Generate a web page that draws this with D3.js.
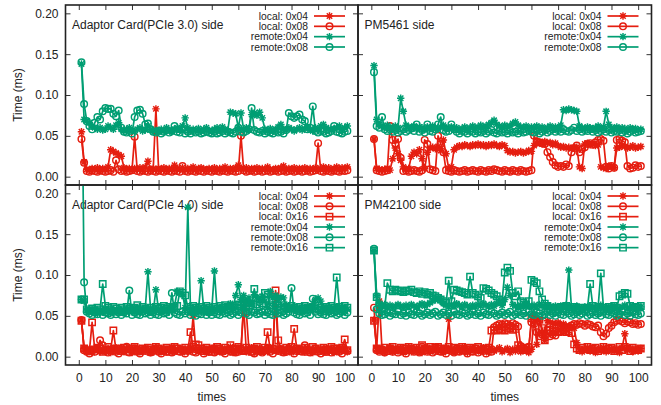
<!DOCTYPE html>
<html><head><meta charset="utf-8">
<script src="https://cdn.jsdelivr.net/npm/d3@7"></script>
<style>
body{margin:0;background:#fff}
svg{display:block}
text{font-family:"Liberation Sans",Arial,Helvetica,sans-serif;fill:#222}
</style>
</head><body>
<svg id="c" width="661" height="405"></svg>
<script>
// ---------------- DATA (Time in ms, one value per run, runs 1..101) ----------------
const panelTitles = ["Adaptor Card(PCIe 3.0) side","PM5461 side","Adaptor Card(PCIe 4.0) side","PM42100 side"];
const seriesNames4 = ["local: 0x04","local: 0x08","remote:0x04","remote:0x08"];
const seriesNames6 = ["local: 0x04","local: 0x08","local: 0x16","remote:0x04","remote:0x08","remote:0x16"];
const xTickLabels = [0,10,20,30,40,50,60,70,80,90,100];
const yTickLabels = [0.00,0.05,0.10,0.15,0.20];

const pcie3_local04 = [.055,.018,.009,.008,.010,.009,.011,.008,.010,.009,
.012,.033,.031,.029,.027,.025,.011,.009,.010,.008,
.010,.009,.011,.008,.012,.019,.009,.010,.083,.010,
.009,.011,.008,.010,.009,.014,.010,.009,.011,.008,
.010,.009,.012,.008,.010,.011,.009,.008,.010,.009,
.011,.008,.010,.009,.012,.008,.010,.009,.011,.014,
.010,.009,.011,.008,.010,.009,.011,.008,.010,.009,
.012,.009,.008,.010,.009,.011,.013,.008,.010,.009,
.011,.008,.010,.009,.011,.008,.010,.009,.011,.008,
.010,.012,.009,.011,.008,.010,.012,.009,.011,.010,.012];
const pcie3_local08 = [.046,.017,.007,.006,.008,.007,.006,.008,.007,.006,
.007,.008,.006,.020,.009,.007,.008,.006,.007,.008,
.049,.007,.006,.008,.007,.006,.008,.007,.006,.008,
.007,.006,.008,.007,.006,.008,.007,.006,.013,.007,
.006,.008,.007,.006,.008,.007,.006,.008,.007,.006,
.008,.007,.006,.008,.007,.006,.008,.007,.006,.007,
.050,.008,.006,.007,.008,.006,.007,.008,.006,.007,
.008,.006,.007,.008,.006,.007,.008,.006,.007,.008,
.006,.007,.008,.006,.007,.008,.006,.007,.008,.041,
.007,.006,.008,.007,.006,.008,.007,.006,.008,.007,.008];
const pcie3_remote04 = [.138,.070,.068,.066,.062,.060,.058,.060,.057,.058,
.062,.060,.058,.063,.066,.058,.056,.058,.060,.057,
.055,.058,.060,.056,.057,.062,.058,.056,.057,.055,
.058,.056,.060,.057,.055,.058,.060,.057,.062,.072,
.060,.056,.058,.057,.059,.056,.058,.060,.057,.055,
.058,.060,.057,.061,.058,.056,.079,.078,.077,.060,
.078,.058,.060,.057,.076,.078,.075,.079,.072,.058,
.057,.059,.056,.058,.061,.064,.058,.057,.060,.058,
.056,.058,.060,.057,.059,.061,.058,.056,.060,.058,
.062,.064,.060,.058,.057,.059,.060,.062,.058,.060,.062];
const pcie3_remote08 = [.140,.089,.068,.062,.058,.066,.073,.070,.080,.084,
.083,.083,.077,.074,.081,.060,.055,.054,.056,.053,
.073,.081,.082,.077,.064,.065,.058,.055,.054,.056,
.053,.055,.057,.054,.056,.062,.055,.054,.058,.053,
.055,.053,.056,.054,.055,.053,.054,.056,.054,.053,
.055,.053,.054,.056,.053,.055,.054,.053,.055,.060,
.055,.054,.056,.058,.084,.057,.055,.054,.056,.053,
.055,.054,.053,.056,.054,.055,.053,.057,.078,.074,
.072,.074,.076,.070,.068,.058,.060,.086,.056,.054,
.056,.055,.053,.054,.056,.062,.055,.054,.053,.055,.056];

const pm5461_local04 = [.046,.010,.009,.008,.009,.010,.008,.022,.035,.028,
.020,.012,.009,.010,.025,.030,.028,.033,.022,.010,
.030,.035,.036,.034,.037,.032,.045,.028,.010,.012,
.033,.036,.038,.037,.039,.038,.037,.039,.038,.040,
.038,.039,.037,.039,.038,.040,.038,.037,.039,.038,
.032,.030,.031,.029,.030,.031,.029,.030,.032,.031,
.038,.041,.042,.040,.043,.041,.042,.039,.041,.038,
.036,.037,.035,.036,.034,.035,.036,.012,.010,.040,
.041,.039,.040,.038,.039,.012,.011,.010,.013,.012,
.011,.035,.036,.038,.037,.035,.036,.038,.035,.036,.037];
const pm5461_local08 = [.046,.008,.007,.006,.007,.008,.062,.045,.040,.046,
.023,.007,.008,.006,.007,.008,.007,.006,.008,.045,
.040,.009,.008,.007,.050,.040,.030,.008,.007,.006,
.008,.007,.006,.007,.008,.006,.007,.008,.007,.006,
.008,.007,.006,.008,.007,.009,.008,.007,.006,.008,
.007,.006,.008,.007,.006,.008,.007,.006,.007,.008,
.050,.043,.042,.041,.040,.030,.024,.018,.014,.012,
.013,.012,.015,.013,.030,.035,.038,.030,.034,.036,
.040,.041,.039,.042,.045,.046,.044,.012,.010,.013,
.011,.045,.046,.044,.042,.013,.010,.011,.014,.012,.013];
const pm5461_remote04 = [.136,.070,.064,.062,.060,.063,.061,.059,.062,.060,
.096,.080,.063,.061,.060,.062,.059,.061,.060,.058,
.061,.059,.062,.060,.058,.061,.063,.060,.059,.061,
.058,.060,.057,.059,.061,.058,.060,.062,.059,.061,
.063,.060,.062,.064,.066,.069,.064,.062,.060,.063,
.061,.062,.065,.067,.063,.061,.060,.062,.059,.061,
.060,.062,.059,.061,.058,.060,.062,.059,.061,.060,
.063,.082,.081,.083,.082,.081,.080,.062,.060,.059,
.061,.060,.058,.060,.062,.059,.061,.080,.064,.060,
.059,.061,.058,.060,.059,.057,.060,.058,.059,.057,.058];
const pm5461_remote08 = [.128,.062,.060,.073,.058,.056,.058,.055,.057,.054,
.056,.058,.055,.057,.059,.056,.064,.055,.057,.054,
.064,.056,.055,.058,.064,.073,.057,.055,.056,.064,
.058,.055,.053,.056,.055,.053,.056,.055,.053,.055,
.054,.056,.053,.055,.057,.054,.053,.056,.054,.055,
.053,.056,.054,.055,.053,.056,.054,.055,.057,.055,
.054,.056,.053,.055,.057,.054,.056,.058,.055,.057,
.055,.058,.056,.055,.057,.060,.056,.058,.055,.057,
.056,.058,.055,.057,.054,.056,.058,.055,.057,.054,
.056,.055,.057,.054,.056,.053,.055,.057,.054,.055,.056];

const pcie4_local04 = [.045,.010,.007,.009,.005,.008,.011,.006,.009,.007,
.010,.005,.008,.011,.007,.009,.006,.010,.008,.005,
.009,.011,.006,.008,.010,.007,.005,.009,.011,.008,
.006,.010,.007,.009,.012,.006,.008,.010,.005,.009,
.007,.011,.050,.009,.006,.008,.010,.005,.009,.007,
.011,.008,.006,.010,.007,.009,.012,.005,.008,.010,
.007,.062,.006,.009,.011,.008,.005,.010,.007,.009,
.006,.011,.008,.075,.007,.010,.006,.009,.011,.005,
.008,.010,.007,.009,.006,.011,.008,.005,.010,.007,
.009,.006,.011,.008,.010,.005,.009,.007,.011,.008,.006];
const pcie4_local08 = [.045,.008,.006,.004,.008,.006,.009,.020,.014,.007,
.005,.008,.010,.006,.004,.009,.007,.012,.005,.008,
.010,.006,.004,.008,.007,.009,.005,.007,.010,.006,
.004,.008,.006,.009,.005,.007,.010,.006,.008,.004,
.007,.009,.006,.005,.010,.007,.004,.008,.006,.009,
.005,.007,.010,.006,.004,.008,.007,.009,.005,.006,
.010,.064,.055,.008,.006,.004,.009,.007,.005,.008,
.010,.006,.004,.008,.007,.009,.005,.006,.010,.008,
.004,.007,.009,.006,.014,.008,.005,.007,.010,.006,
.004,.008,.006,.009,.005,.007,.010,.006,.004,.008,.007];
const pcie4_local16 = [.044,.010,.008,.007,.042,.009,.011,.010,.006,.008,
.012,.009,.032,.008,.010,.007,.011,.009,.006,.010,
.012,.008,.007,.010,.009,.011,.006,.008,.012,.010,
.007,.009,.011,.006,.008,.012,.010,.007,.009,.011,
.008,.030,.012,.015,.014,.010,.007,.011,.009,.006,
.010,.012,.008,.007,.011,.009,.014,.006,.010,.012,
.008,.007,.011,.009,.006,.010,.012,.008,.007,.011,
.030,.009,.010,.081,.020,.009,.006,.011,.008,.012,
.034,.010,.007,.009,.011,.006,.008,.012,.010,.007,
.009,.011,.006,.008,.012,.010,.007,.009,.011,.021,.008];
const pcie4_remote04 = [.070,.068,.057,.055,.058,.056,.053,.057,.055,.059,
.056,.053,.057,.055,.059,.056,.054,.058,.055,.060,
.056,.060,.054,.057,.059,.104,.058,.055,.082,.057,
.054,.058,.056,.060,.057,.062,.080,.078,.076,.060,
.183,.058,.055,.059,.057,.093,.058,.055,.059,.057,
.105,.058,.060,.056,.059,.062,.065,.060,.075,.088,
.070,.075,.068,.072,.065,.076,.073,.070,.074,.068,
.060,.080,.072,.075,.070,.073,.072,.062,.060,.058,
.060,.056,.059,.055,.058,.061,.059,.062,.070,.072,
.068,.057,.060,.056,.059,.058,.061,.056,.059,.060,.058];
const pcie4_remote08 = [.400,.091,.055,.053,.051,.054,.052,.055,.051,.054,
.053,.051,.055,.052,.054,.051,.054,.053,.081,.051,
.054,.052,.051,.055,.053,.054,.051,.054,.052,.051,
.055,.053,.054,.051,.078,.054,.052,.051,.055,.053,
.055,.051,.054,.050,.053,.052,.055,.051,.054,.051,
.054,.052,.051,.055,.053,.054,.051,.053,.055,.051,
.054,.065,.053,.051,.055,.054,.052,.053,.055,.051,
.054,.052,.051,.055,.053,.054,.051,.053,.055,.084,
.054,.052,.051,.055,.053,.054,.051,.071,.055,.052,
.054,.052,.051,.055,.053,.054,.051,.053,.055,.051,.054];
const pcie4_remote16 = [.070,.070,.058,.056,.059,.057,.060,.058,.089,.062,
.060,.057,.061,.059,.056,.060,.058,.061,.059,.057,
.060,.063,.058,.061,.059,.057,.060,.058,.061,.059,
.060,.062,.059,.061,.058,.060,.062,.080,.078,.075,
.061,.059,.062,.060,.058,.061,.059,.062,.060,.058,
.061,.059,.062,.060,.063,.061,.059,.062,.060,.064,
.062,.060,.063,.061,.065,.083,.064,.062,.065,.078,
.076,.063,.061,.064,.062,.060,.063,.061,.059,.062,
.060,.058,.061,.059,.062,.060,.058,.061,.059,.062,
.060,.058,.061,.059,.062,.060,.097,.061,.059,.062,.060];

const pm42100_local04 = [.045,.010,.068,.009,.005,.008,.011,.006,.009,.007,
.010,.005,.009,.011,.006,.008,.010,.007,.005,.009,
.011,.006,.008,.010,.007,.009,.005,.011,.046,.008,
.006,.010,.007,.009,.012,.005,.008,.010,.007,.009,
.006,.011,.008,.005,.010,.007,.009,.011,.006,.008,
.010,.005,.009,.007,.011,.006,.008,.010,.005,.009,
.052,.015,.045,.030,.020,.044,.042,.041,.040,.042,
.039,.040,.038,.037,.036,.035,.017,.008,.006,.009,
.011,.007,.010,.005,.008,.009,.011,.006,.008,.010,
.007,.009,.005,.011,.028,.008,.010,.006,.009,.007,.010];
const pm42100_local08 = [.060,.008,.006,.009,.005,.007,.010,.006,.008,.005,
.009,.007,.004,.008,.010,.006,.007,.005,.012,.008,
.006,.009,.005,.007,.010,.006,.008,.004,.009,.007,
.005,.010,.006,.008,.007,.004,.009,.006,.010,.005,
.008,.007,.004,.009,.006,.036,.038,.040,.039,.041,
.040,.038,.041,.039,.037,.013,.010,.008,.012,.042,
.040,.030,.025,.027,.026,.028,.025,.027,.026,.030,
.036,.034,.035,.036,.038,.040,.039,.041,.040,.038,
.040,.039,.037,.036,.038,.030,.025,.028,.035,.038,
.042,.044,.045,.043,.041,.043,.042,.040,.041,.039,.040];
const pm42100_local16 = [.044,.010,.009,.008,.011,.007,.010,.012,.008,.009,
.011,.007,.010,.012,.008,.009,.011,.007,.014,.010,
.008,.012,.009,.011,.012,.007,.010,.008,.012,.009,
.011,.007,.010,.012,.008,.009,.011,.007,.010,.012,
.008,.010,.009,.011,.032,.033,.032,.034,.033,.032,
.034,.035,.033,.034,.014,.010,.008,.011,.009,.047,
.046,.044,.045,.035,.020,.032,.033,.031,.032,.030,
.031,.032,.030,.031,.029,.015,.010,.008,.011,.009,
.012,.008,.010,.011,.007,.009,.012,.008,.010,.011,
.007,.009,.012,.008,.012,.010,.007,.011,.009,.008,.010];
const pm42100_remote04 = [.130,.075,.065,.062,.064,.061,.063,.060,.062,.064,
.062,.060,.063,.061,.064,.062,.060,.063,.065,.062,
.064,.066,.068,.070,.072,.069,.065,.063,.061,.064,
.062,.065,.063,.061,.064,.062,.060,.063,.061,.064,
.062,.065,.063,.061,.064,.062,.065,.067,.063,.070,
.085,.075,.064,.062,.060,.063,.061,.064,.062,.060,
.063,.061,.064,.062,.060,.063,.061,.059,.062,.060,
.062,.060,.063,.106,.061,.059,.062,.060,.058,.061,
.059,.062,.060,.058,.061,.063,.060,.058,.061,.059,
.062,.060,.058,.061,.063,.060,.058,.062,.060,.059,.061];
const pm42100_remote08 = [.132,.058,.053,.051,.052,.054,.050,.053,.052,.055,
.051,.053,.050,.054,.052,.051,.055,.053,.050,.052,
.054,.051,.053,.055,.050,.052,.054,.051,.053,.050,
.055,.052,.051,.054,.053,.050,.052,.055,.051,.053,
.050,.054,.052,.051,.055,.053,.050,.052,.054,.051,
.053,.055,.050,.052,.054,.051,.053,.050,.055,.052,
.051,.054,.053,.050,.052,.055,.051,.053,.050,.054,
.052,.051,.055,.053,.050,.052,.054,.051,.053,.055,
.050,.052,.054,.051,.053,.050,.055,.052,.051,.054,
.053,.050,.052,.055,.051,.053,.050,.054,.052,.051,.053];
const pm42100_remote16 = [.130,.073,.062,.058,.060,.090,.082,.080,.082,.081,
.080,.079,.081,.080,.082,.079,.078,.080,.077,.079,
.076,.078,.075,.074,.072,.070,.068,.066,.093,.068,
.082,.081,.080,.079,.078,.076,.098,.078,.076,.074,
.072,.084,.083,.081,.078,.076,.074,.070,.068,.103,
.109,.105,.078,.074,.080,.068,.066,.064,.068,.094,
.092,.090,.080,.070,.065,.062,.060,.058,.060,.058,
.061,.059,.062,.060,.058,.061,.059,.057,.060,.058,
.060,.089,.062,.059,.061,.102,.060,.058,.061,.059,
.062,.060,.074,.076,.078,.077,.062,.060,.061,.060,.062];

// ---------------- LAYOUT / STYLE ----------------
const RED = "#e51e10", GREEN = "#009e73";
const xDomain = [-5, 105], yDomain = [-0.0102, 0.2102];
const svg = d3.select("#c");

const panels = [
  {title: panelTitles[0], box:[65.5,5,358,185], showX:false,
   series:[[seriesNames4[0],pcie3_local04,RED,"star"],[seriesNames4[1],pcie3_local08,RED,"circle"],
           [seriesNames4[2],pcie3_remote04,GREEN,"star"],[seriesNames4[3],pcie3_remote08,GREEN,"circle"]]},
  {title: panelTitles[1], box:[358,5,651.5,185], showX:false,
   series:[[seriesNames4[0],pm5461_local04,RED,"star"],[seriesNames4[1],pm5461_local08,RED,"circle"],
           [seriesNames4[2],pm5461_remote04,GREEN,"star"],[seriesNames4[3],pm5461_remote08,GREEN,"circle"]]},
  {title: panelTitles[2], box:[65.5,185,358,365], showX:true,
   series:[[seriesNames6[0],pcie4_local04,RED,"star"],[seriesNames6[1],pcie4_local08,RED,"circle"],[seriesNames6[2],pcie4_local16,RED,"square"],
           [seriesNames6[3],pcie4_remote04,GREEN,"star"],[seriesNames6[4],pcie4_remote08,GREEN,"circle"],[seriesNames6[5],pcie4_remote16,GREEN,"square"]]},
  {title: panelTitles[3], box:[358,185,651.5,365], showX:true,
   series:[[seriesNames6[0],pm42100_local04,RED,"star"],[seriesNames6[1],pm42100_local08,RED,"circle"],[seriesNames6[2],pm42100_local16,RED,"square"],
           [seriesNames6[3],pm42100_remote04,GREEN,"star"],[seriesNames6[4],pm42100_remote08,GREEN,"circle"],[seriesNames6[5],pm42100_remote16,GREEN,"square"]]}
];

function symbolPath(type){
  if(type==="star") return "M-3.7,0H3.7M0,-3.7V3.7M-2.7,-2.7L2.7,2.7M-2.7,2.7L2.7,-2.7";
  if(type==="circle") return d3.symbol().type(d3.symbolCircle).size(Math.PI*3.3*3.3)();
  return "M-3.2,-3.2H3.2V3.2H-3.2Z";
}

panels.forEach((p,pi)=>{
  const [x0,y0,x1,y1] = p.box;
  const x = d3.scaleLinear().domain(xDomain).range([x0,x1]);
  const y = d3.scaleLinear().domain(yDomain).range([y1,y0]);
  const g = svg.append("g");

  // title (drawn beneath the data, as in the original)
  g.append("text").attr("x",x0+6.5).attr("y",y0+23.5).attr("font-size","12px").text(p.title);

  // axes with inward ticks on all sides
  const tick = sel => { sel.select(".domain").remove(); sel.selectAll("line").attr("stroke","#333").attr("stroke-width",1); };
  g.append("g").attr("transform",`translate(0,${y1})`)
    .call(d3.axisBottom(x).tickValues(xTickLabels).tickSize(-5).tickPadding(8).tickFormat(p.showX? d3.format("d") : ()=>""))
    .call(tick).selectAll("text").attr("font-size","12px").attr("font-family","Liberation Sans, Arial, sans-serif").attr("fill","#222");
  g.append("g").attr("transform",`translate(0,${y0})`)
    .call(d3.axisTop(x).tickValues(xTickLabels).tickSize(-5).tickFormat(()=>"")).call(tick);
  g.append("g").attr("transform",`translate(${x0},0)`)
    .call(d3.axisLeft(y).tickValues(yTickLabels).tickSize(-5).tickPadding(7).tickFormat(pi%2===0? d3.format(".2f") : ()=>""))
    .call(tick).selectAll("text").attr("font-size","12px").attr("font-family","Liberation Sans, Arial, sans-serif").attr("fill","#222");
  g.append("g").attr("transform",`translate(${x1},0)`)
    .call(d3.axisRight(y).tickValues(yTickLabels).tickSize(-5).tickFormat(()=>"")).call(tick);

  // data
  const cid = "clip"+pi;
  svg.append("clipPath").attr("id",cid).append("rect").attr("x",x0).attr("y",y0).attr("width",x1-x0).attr("height",y1-y0);
  const dg = g.append("g").attr("clip-path",`url(#${cid})`);
  const line = d3.line().x((d,i)=>x(i+1)).y(d=>y(d));
  p.series.forEach(([name,vals,col,sym])=>{
    const sg = dg.append("g");
    sg.append("path").attr("d",line(vals)).attr("fill","none").attr("stroke",col).attr("stroke-width",1.7).attr("stroke-linejoin","round");
    const sp = symbolPath(sym);
    sg.selectAll("path.pt").data(vals).join("path").attr("class","pt")
      .attr("d",sp).attr("transform",(d,i)=>`translate(${x(i+1)},${y(d)})`)
      .attr("fill","none").attr("stroke",col).attr("stroke-width",1.45);
  });

  // legend
  p.series.forEach(([name,vals,col,sym],i)=>{
    const ly = y0 + 11 + i*10.33;
    g.append("text").attr("x",x1-50).attr("y",ly+3.6).attr("text-anchor","end").attr("font-size","10.3px").text(name);
    g.append("line").attr("x1",x1-44).attr("x2",x1-13).attr("y1",ly).attr("y2",ly).attr("stroke",col).attr("stroke-width",1.7);
    g.append("path").attr("d",symbolPath(sym)).attr("transform",`translate(${x1-28.5},${ly})`).attr("fill","none").attr("stroke",col).attr("stroke-width",1.45);
  });

  // frame
  g.append("rect").attr("x",x0).attr("y",y0).attr("width",x1-x0).attr("height",y1-y0)
    .attr("fill","none").attr("stroke","#222").attr("stroke-width",1.6);

  // axis titles
  if(pi%2===0){
    g.append("text").attr("transform",`translate(18,${(y0+y1)/2}) rotate(-90)`).attr("text-anchor","middle")
      .attr("dy","0.35em").attr("font-size","12px").text("Time (ms)");
  }
  if(p.showX){
    g.append("text").attr("x",(x0+x1)/2).attr("y",400.5).attr("text-anchor","middle").attr("font-size","12px").text("times");
  }
});
</script>
</body></html>
